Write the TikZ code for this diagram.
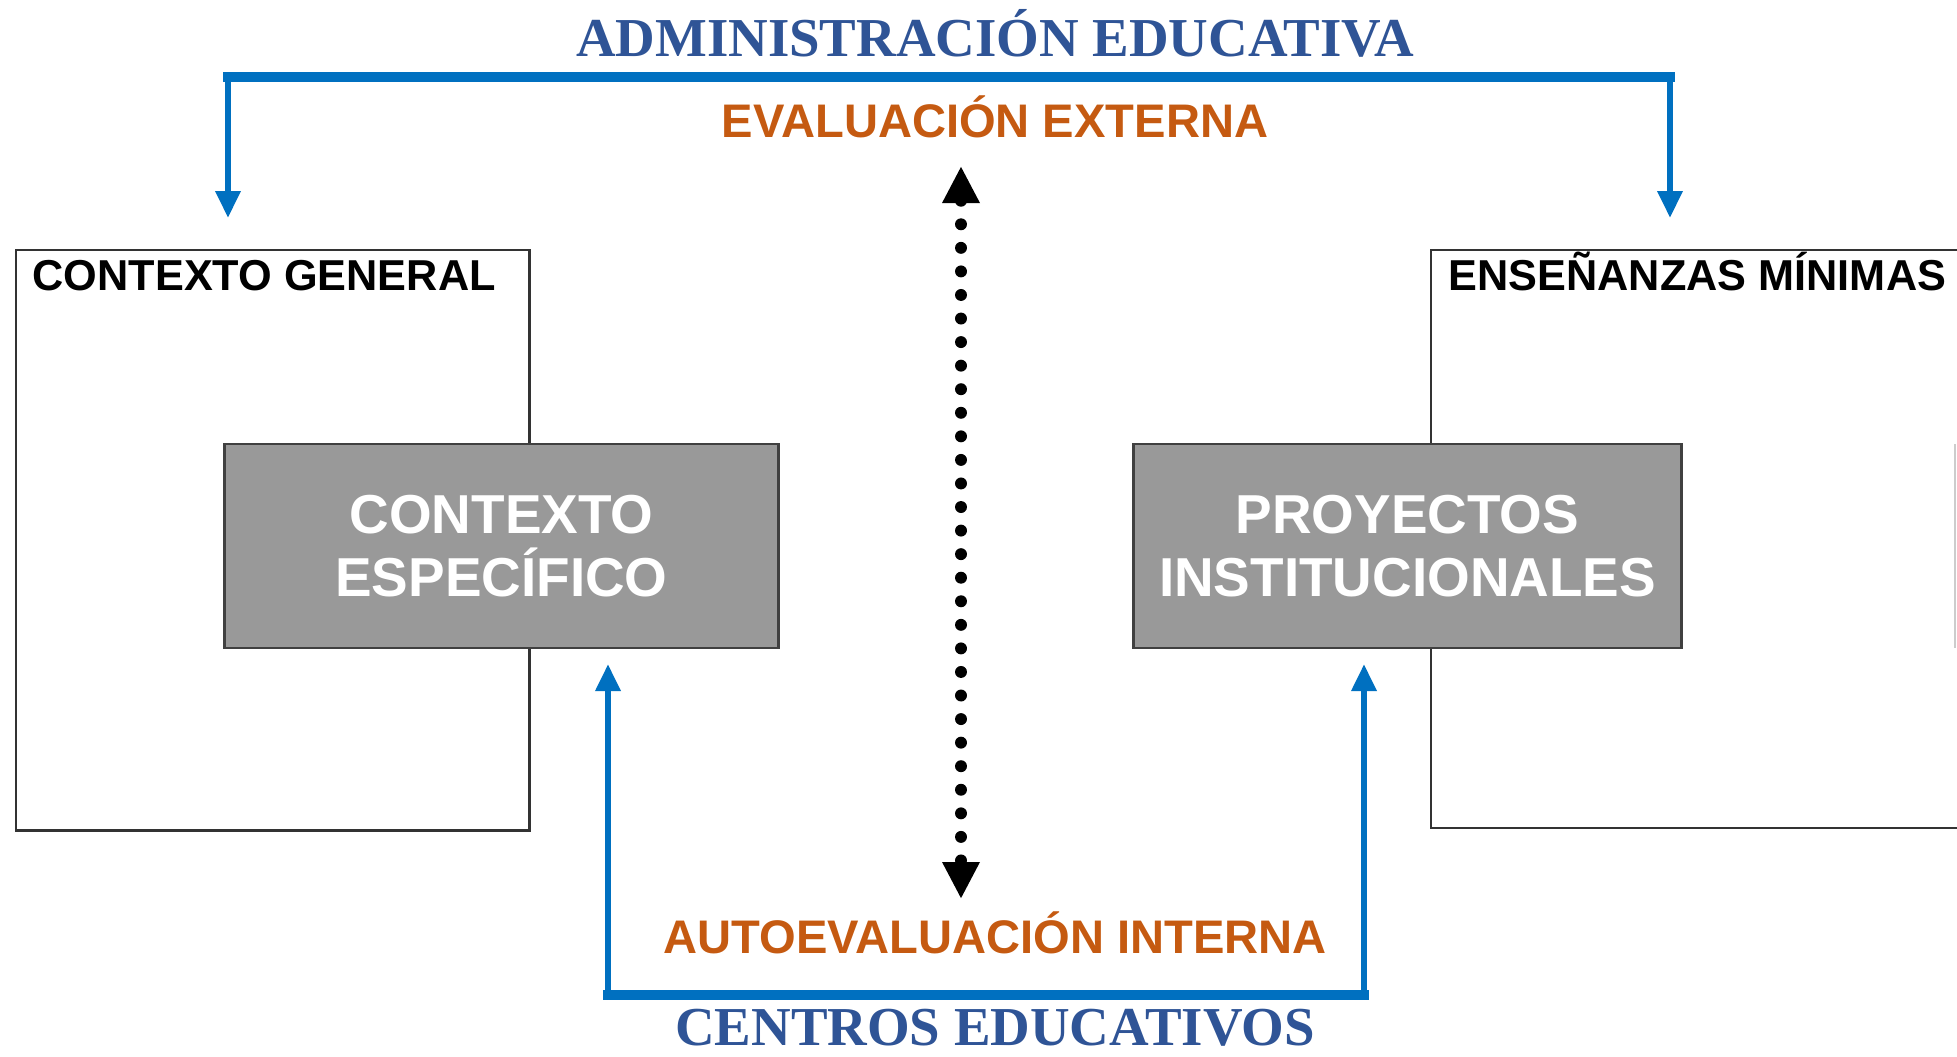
\documentclass[tikz,border=0pt]{standalone}
\usepackage{fontspec}
\setmainfont{Liberation Serif}
\setsansfont{Liberation Sans}
\usetikzlibrary{arrows.meta}
\definecolor{linkblue}{HTML}{0070C0}
\definecolor{headblue}{HTML}{2F5496}
\definecolor{evalorange}{HTML}{C55A11}
\definecolor{boxgray}{HTML}{999999}

\begin{document}
\begin{tikzpicture}[x=0.01cm, y=-0.01cm,
  head/.style = {font=\fontsize{15.6}{18}\selectfont\bfseries, text=headblue, anchor=base, inner sep=0, text depth=0pt},
  eval/.style = {font=\fontsize{13.4}{16}\selectfont\sffamily\bfseries, text=evalorange, anchor=base, inner sep=0},
  genframe/.style = {draw=black!80, line width=0.8pt, inner sep=0, outer sep=0},
  framelabel/.style = {font=\fontsize{12.3}{15}\selectfont\sffamily\bfseries, anchor=base west, inner sep=0},
  core/.style = {draw=black!75, line width=0.8pt, fill=boxgray, text=white, align=center, inner sep=0,
    minimum height=2.04cm, font=\fontsize{15.6}{17.9}\selectfont\sffamily\bfseries},
  topbar/.style = {linkblue, line width=3pt, line cap=rect},
  bluearrow/.style = {linkblue, line width=1.8pt, -{Triangle[length=0.27cm, width=0.24cm]}},
  evalline/.style = {line width=3.4pt, line cap=round, dash pattern=on 0pt off 6.7pt,
    {Triangle[length=0.37cm, width=0.35cm]}-{Triangle[length=0.37cm, width=0.35cm]}}]
  \useasboundingbox (0,0) rectangle (1957,1056);

  % frames
  \node[genframe, minimum width=5.13cm, minimum height=5.80cm, anchor=north west] (gen) at (16,250) {};
  \draw[genframe] (1957,250) -| (1431,828) -- (1957,828);
  \draw[black!20, line width=0.6pt] (1955,444) -- (1955,648);
  \node[framelabel] (genlbl) at (32,290) {CONTEXTO GENERAL};
  \node[framelabel] (enslbl) at (1448,290) {ENSEÑANZAS MÍNIMAS};

  \node[core, minimum width=5.53cm] (esp) at (501.5,546) {CONTEXTO\\ESPECÍFICO};
  \node[core, minimum width=5.47cm] (pro) at (1407.5,546) {PROYECTOS\\INSTITUCIONALES};

  % texts
  \node[head] (adm) at (995,56) {ADMINISTRACIÓN EDUCATIVA};
  \node[eval] (ext) at (995,137) {EVALUACIÓN EXTERNA};
  \node[eval] (aut) at (995,953) {AUTOEVALUACIÓN INTERNA};
  \node[head] (cen) at (995,1045) {CENTROS EDUCATIVOS};

  % connectors
  \coordinate (admL) at (228,77);
  \coordinate (admR) at (1670,77);
  \coordinate (genTip) at (228,218);
  \coordinate (ensTip) at (1670,218);
  \coordinate (cenL) at (608,995);
  \coordinate (cenR) at (1364,995);
  \coordinate (espTip) at (608,664);
  \coordinate (proTip) at (1364,664);
  \coordinate (extTip) at (961,166);
  \coordinate (autTip) at (961,899);

  \draw[topbar] (admL) -- (admR);
  \draw[bluearrow] (admL) -- (genTip);
  \draw[bluearrow] (admR) -- (ensTip);
  \draw[topbar] (cenL) -- (cenR);
  \draw[bluearrow] (cenL) -- (espTip);
  \draw[bluearrow] (cenR) -- (proTip);
  \draw[evalline] (extTip) -- (autTip);
\end{tikzpicture}
\end{document}
